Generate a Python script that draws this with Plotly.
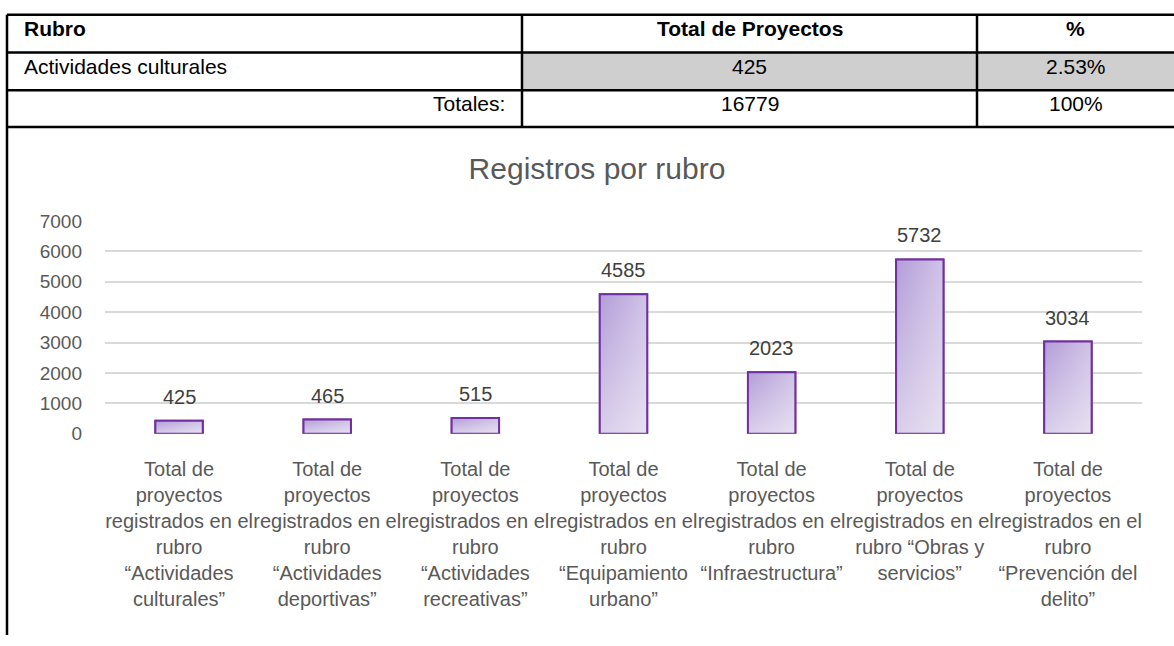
import plotly.graph_objects as go

# ---------------- data ----------------
categories = [
    "Actividades culturales",
    "Actividades deportivas",
    "Actividades recreativas",
    "Equipamiento urbano",
    "Infraestructura",
    "Obras y servicios",
    "Prevención del delito",
]
tick_labels = [
    "Total de<br>proyectos<br>registrados en el<br>rubro<br>“Actividades<br>culturales”",
    "Total de<br>proyectos<br>registrados en el<br>rubro<br>“Actividades<br>deportivas”",
    "Total de<br>proyectos<br>registrados en el<br>rubro<br>“Actividades<br>recreativas”",
    "Total de<br>proyectos<br>registrados en el<br>rubro<br>“Equipamiento<br>urbano”",
    "Total de<br>proyectos<br>registrados en el<br>rubro<br>“Infraestructura”",
    "Total de<br>proyectos<br>registrados en el<br>rubro “Obras y<br>servicios”",
    "Total de<br>proyectos<br>registrados en el<br>rubro<br>“Prevención del<br>delito”",
]
values = [425, 465, 515, 4585, 2023, 5732, 3034]

table_header = ["Rubro", "Total de Proyectos", "%"]
table_row = ["Actividades culturales", "425", "2.53%"]
table_total = ["Totales:", "16779", "100%"]

chart_title = "Registros por rubro"

# ---------------- style / layout constants ----------------
W, H = 1174, 646
FONT = "Liberation Sans, Arial, sans-serif"
col_edges = [7, 522, 977, 1174]
row_edges = [5, 44, 83, 121]
BAR_W = 0.32
OUTLINE = "#7030a0"


def px(x):
    return x / W


def py(y):
    return 1 - y / H


positions = list(range(len(categories)))

fig = go.Figure()

# the bars themselves
fig.add_trace(go.Bar(
    x=positions, y=values, width=BAR_W,
    marker=dict(color="#c8b8e1", line=dict(color=OUTLINE, width=2)),
    customdata=categories,
    hovertemplate="%{customdata}: %{y}<extra></extra>",
))

# gradient shading drawn over each bar (same extent as the bar)
for p, v in zip(positions, values):
    xs = [p - BAR_W / 2, p + BAR_W / 2, p + BAR_W / 2, p - BAR_W / 2, p - BAR_W / 2]
    ys = [0, 0, v, v, 0]
    fig.add_trace(go.Scatter(
        x=xs, y=ys, mode="lines", fill="toself", line=dict(width=0),
        fillcolor="#c8b8e1",
        fillgradient=dict(type="vertical",
                          colorscale=[[0, "#d9cfea"], [1, "#b39dd8"]]),
        hoverinfo="skip", showlegend=False,
    ))
    fig.add_trace(go.Scatter(
        x=xs, y=ys, mode="lines", fill="toself",
        line=dict(color=OUTLINE, width=2),
        fillcolor="rgba(255,255,255,0.15)",
        fillgradient=dict(type="horizontal",
                          colorscale=[[0, "rgba(255,255,255,0)"],
                                      [1, "rgba(255,255,255,0.38)"]]),
        hoverinfo="skip", showlegend=False,
    ))

annotations = []
# data labels above bars
for p, v in zip(positions, values):
    annotations.append(dict(
        x=p, y=v, xref="x", yref="y", text=str(v), showarrow=False,
        yanchor="middle", yshift=24,
        font=dict(family=FONT, size=20, color="#404040"),
    ))

shapes = []
# gray cells on the data row
for ci in (1, 2):
    shapes.append(dict(type="rect", xref="paper", yref="paper",
                       x0=px(col_edges[ci]), x1=px(col_edges[ci + 1]),
                       y0=py(row_edges[2]), y1=py(row_edges[1]),
                       fillcolor="#cfcfcf", line=dict(width=0), layer="below"))
# horizontal table lines
for r in row_edges:
    shapes.append(dict(type="line", xref="paper", yref="paper",
                       x0=px(col_edges[0]), x1=1, y0=py(r), y1=py(r),
                       line=dict(color="black", width=2.5)))
# vertical table lines
for c in col_edges[1:3]:
    shapes.append(dict(type="line", xref="paper", yref="paper",
                       x0=px(c), x1=px(c), y0=py(row_edges[0]), y1=py(row_edges[-1]),
                       line=dict(color="black", width=2.5)))
# left border of table and chart cell
shapes.append(dict(type="line", xref="paper", yref="paper",
                   x0=px(col_edges[0]), x1=px(col_edges[0]), y0=py(row_edges[0]), y1=0,
                   line=dict(color="black", width=2.5)))

# table texts
rows = [table_header, table_row, table_total]
for ri, row in enumerate(rows):
    for ci, txt in enumerate(row):
        t = f"<b>{txt}</b>" if ri == 0 else txt
        yc = (row_edges[ri] + row_edges[ri + 1]) / 2 - 5
        if ci == 0:
            if ri == 2:
                x, xa = col_edges[1] - 15, "right"
            else:
                x, xa = col_edges[0] + 15, "left"
        else:
            x, xa = (col_edges[ci] + col_edges[ci + 1]) / 2, "center"
        annotations.append(dict(
            x=px(x), y=py(yc), xref="paper", yref="paper", text=t,
            showarrow=False, xanchor=xa, yanchor="middle",
            font=dict(family=FONT, size=21, color="black"),
        ))

fig.update_layout(
    width=W, height=H,
    margin=dict(l=0, r=0, t=0, b=0),
    paper_bgcolor="white", plot_bgcolor="white",
    showlegend=False,
    title=dict(text=chart_title, x=px(597), y=py(164), xref="paper", yref="paper",
               xanchor="center", yanchor="middle",
               font=dict(family=FONT, size=30, color="#595959")),
    xaxis=dict(domain=[px(105), px(1142)], range=[-0.5, len(categories) - 0.5],
               tickmode="array", tickvals=positions, ticktext=tick_labels,
               showline=False, showgrid=False, zeroline=False, ticks="",
               tickangle=0, ticklabelstandoff=21,
               tickfont=dict(family=FONT, size=20, color="#595959")),
    yaxis=dict(domain=[py(438), py(218)], range=[0, 7000], dtick=1000,
               showline=False, zeroline=False, showgrid=True,
               gridcolor="#d9d9d9", gridwidth=1.5, ticks="",
               ticklabelstandoff=22,
               tickfont=dict(family=FONT, size=19, color="#595959")),
    annotations=annotations,
    shapes=shapes,
)

fig.write_html("out.html",
               config={"displayModeBar": False},
               post_script="document.body.style.margin='0px';document.body.style.overflow='hidden';")
